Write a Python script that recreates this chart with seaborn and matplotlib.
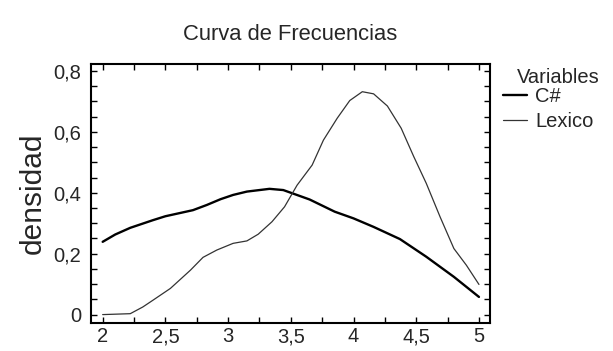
import numpy as np
import pandas as pd
import seaborn as sns
import matplotlib
matplotlib.use("Agg")
import matplotlib.pyplot as plt
from matplotlib.ticker import FixedLocator, FixedFormatter, MultipleLocator
from matplotlib.lines import Line2D

# ---- data ----
csharp_x = [2.0, 2.1, 2.22, 2.4, 2.5, 2.72, 2.83, 2.94, 3.04, 3.15, 3.33, 3.44,
            3.65, 3.85, 4.0, 4.16, 4.37, 4.58, 4.8, 5.0]
csharp_y = [0.239, 0.263, 0.285, 0.31, 0.323, 0.343, 0.36, 0.379, 0.393, 0.404,
            0.413, 0.409, 0.378, 0.338, 0.316, 0.288, 0.248, 0.19, 0.124, 0.058]

lexico_x = [2.0, 2.22, 2.32, 2.4, 2.54, 2.7, 2.8, 2.91, 3.04, 3.15, 3.24, 3.35,
            3.45, 3.55, 3.67, 3.76, 3.87, 3.97, 4.07, 4.16, 4.27, 4.38, 4.48,
            4.58, 4.69, 4.8, 4.9, 5.0]
lexico_y = [0.0, 0.003, 0.025, 0.047, 0.086, 0.146, 0.188, 0.212, 0.234, 0.242,
            0.264, 0.305, 0.354, 0.425, 0.491, 0.573, 0.645, 0.703, 0.732, 0.725,
            0.685, 0.612, 0.519, 0.431, 0.321, 0.217, 0.162, 0.099]

series_names = ["C#", "Lexico"]
x_ticks = [2, 2.5, 3, 3.5, 4, 4.5, 5]
x_ticklabels = ["2", "2,5", "3", "3,5", "4", "4,5", "5"]
y_ticks = [0, 0.2, 0.4, 0.6, 0.8]
y_ticklabels = ["0", "0,2", "0,4", "0,6", "0,8"]

df = pd.concat([
    pd.DataFrame({"x": csharp_x, "y": csharp_y, "Variables": series_names[0]}),
    pd.DataFrame({"x": lexico_x, "y": lexico_y, "Variables": series_names[1]}),
], ignore_index=True)

sns.set_style("white")
plt.rcParams["font.family"] = ["Liberation Sans", "DejaVu Sans"]

fig = plt.figure(figsize=(6.13, 3.51), dpi=100)
ax = fig.add_axes([91/613, 1 - 323/351, (490-91)/613, (323-64)/351])

colors = {"C#": "#000000", "Lexico": "#333333"}
widths = {"C#": 1.7, "Lexico": 0.9}
sns.lineplot(data=df, x="x", y="y", hue="Variables", size="Variables",
             palette=colors, sizes=widths, ax=ax, legend=False, sort=False)

ax.set_xlim(1.907, 5.088)
ax.set_ylim(-0.0276, 0.823)
ax.xaxis.set_major_locator(FixedLocator(x_ticks))
ax.xaxis.set_major_formatter(FixedFormatter(x_ticklabels))
ax.yaxis.set_major_locator(FixedLocator(y_ticks))
ax.yaxis.set_major_formatter(FixedFormatter(y_ticklabels))
ax.xaxis.set_minor_locator(MultipleLocator(0.25))
ax.yaxis.set_minor_locator(MultipleLocator(0.05))
ax.tick_params(which="both", direction="in", top=True, right=True,
               bottom=True, left=True, length=4, width=1.0, color="black")
ax.tick_params(axis="x", which="major", labelsize=14.5, pad=3)
ax.tick_params(axis="y", which="major", labelsize=14.5, pad=7)
for s in ax.spines.values():
    s.set_color("black")
    s.set_linewidth(1.5)

ax.set_xlabel("")
ax.set_ylabel("densidad", fontsize=21.5, labelpad=5)

fig.text(290/613, 1 - 35/351, "Curva de Frecuencias", ha="center",
         va="center", fontsize=15.8)

# legend
fig.text(517/613, 1 - 82.7/351, "Variables", ha="left", va="baseline",
         fontsize=14.5)
handles = [Line2D([], [], color=colors[n], lw=widths[n]) for n in series_names]
leg = fig.legend(handles, series_names, frameon=False,
                 loc="upper left", bbox_to_anchor=(503/613, 1 - 87/351),
                 fontsize=14.5, handlelength=1.2, handletextpad=0.4,
                 labelspacing=0.3, borderpad=0.0, borderaxespad=0)

fig.savefig("out.png", dpi=100)
